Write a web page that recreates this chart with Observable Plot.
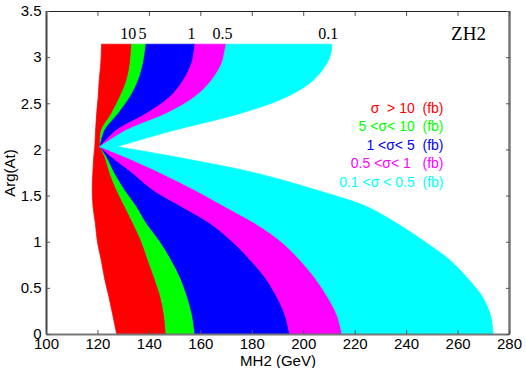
<!DOCTYPE html>
<html><head><meta charset="utf-8">
<script src="https://cdn.jsdelivr.net/npm/d3@7"></script>
<script src="https://cdn.jsdelivr.net/npm/@observablehq/plot@0.6"></script>
<style>body{margin:0;background:#fff} svg{display:block}</style>
</head><body><div id="chart"></div>
<script>
// ---------- data ----------
const xDomain = [100, 280];
const yDomain = [0, 3.5];
const xTicks = [100, 120, 140, 160, 180, 200, 220, 240, 260, 280];
const yTicks = [0, 0.5, 1, 1.5, 2, 2.5, 3, 3.5];
const levels = ["10", "5", "1", "0.5", "0.1"];
const bandColors = ["#ff0000", "#00ff00", "#0000ff", "#ff00ff", "#00ffff"];
const legendLabels = ["σ  > 10  (fb)", "5 <σ< 10  (fb)", "1 <σ< 5  (fb)", "0.5 <σ< 1   (fb)", "0.1 <σ < 0.5  (fb)"];
const title = "ZH2";

// upper lobe: Arg(At) values and MH2 of each boundary
const upperY     = [2.03, 2.21, 2.39, 2.57, 2.75, 2.93, 3.05, 3.14];
const upperEdge  = [119.0, 119.3, 119.7, 120.3, 120.7, 121.3, 121.5, 121.6];
const upper10    = [121.0, 121.6, 125.5, 128.8, 131.4, 132.7, 133.1, 133.3];
const upper5     = [121.0, 122.9, 128.1, 132.7, 135.9, 137.8, 138.5, 138.9];
const upper1     = [121.0, 127.5, 139.1, 148.2, 153.4, 156.6, 157.5, 157.9];
const upper05    = [121.0, 131.4, 146.9, 157.9, 164.4, 168.3, 169.4, 170.0];
const upper01    = [127.5, 150.0, 175.4, 193.6, 203.9, 209.1, 210.8, 211.1];

// lower lobe
const lowerY     = [2.03, 1.92, 1.74, 1.56, 1.38, 1.2, 1.0, 0.8, 0.6, 0.4, 0.2, 0];
const lowerEdge  = [119.0, 118.6, 118.2, 118.0, 118.3, 119.2, 120.0, 121.5, 122.8, 124.5, 126.0, 127.5];
const lower10    = [121.0, 122.9, 124.9, 127.5, 130.7, 133.9, 137.2, 139.7, 142.3, 144.6, 146.0, 146.7];
const lower5     = [121.0, 123.6, 126.8, 130.7, 135.3, 139.1, 144.4, 148.8, 152.4, 155.0, 156.9, 157.9];
const lower1     = [121.0, 125.5, 133.9, 141.7, 152.8, 163.8, 172.5, 179.5, 185.5, 189.8, 193.0, 194.7];
const lower05    = [121.0, 130.7, 145.0, 157.9, 169.6, 181.3, 191.5, 198.8, 204.8, 209.5, 213.2, 215.1];
const lower01    = [127.5, 150.0, 182.0, 205.0, 224.7, 236.3, 247.2, 257.0, 264.0, 269.7, 272.8, 273.8];

// ---------- build ----------
const upperBounds = [upperEdge, upper10, upper5, upper1, upper05, upper01];
const lowerBounds = [lowerEdge, lower10, lower5, lower1, lower05, lower01];

function bandRows(ys, bounds, i) {
  return ys.map((y, j) => ({y, x1: bounds[i][j], x2: bounds[i + 1][j]}));
}

const bandMarks = [];
bandColors.forEach((c, i) => {
  for (const [ys, bounds] of [[upperY, upperBounds], [lowerY, lowerBounds]]) {
    bandMarks.push(Plot.areaX(bandRows(ys, bounds, i), {
      y: "y", x1: "x1", x2: "x2", fill: c, stroke: c, strokeWidth: 0.8, curve: "catmull-rom"
    }));
  }
});

const topRow = upperY.length - 1;
const contourLabels = levels.map((t, i) => ({t, x: upperBounds[i + 1][topRow], y: upperY[topRow]}));

const serif = "'Liberation Serif', 'Times New Roman', serif";
const blank = () => "";
const plain = d => String(d);

const plot = Plot.plot({
  width: 526,
  height: 368,
  marginLeft: 46,
  marginRight: 17,
  marginTop: 11,
  marginBottom: 34,
  x: {domain: xDomain},
  y: {domain: yDomain},
  style: {fontFamily: "'Liberation Sans', Arial, sans-serif", fontSize: "15px", background: "#fff", color: "#000"},
  marks: [
    ...bandMarks,
    // frame
    Plot.ruleY([yDomain[1]], {stroke: "#222", strokeWidth: 1}),
    Plot.ruleX([xDomain[0]], {stroke: "#444", strokeWidth: 2}),
    Plot.ruleX([xDomain[1]], {stroke: "#777", strokeWidth: 2.5}),
    Plot.ruleY([yDomain[0]], {stroke: "#777", strokeWidth: 2}),
    // inward ticks
    Plot.axisX(xTicks, {anchor: "bottom", tickSize: -4, tickFormat: blank, label: null, stroke: "#555"}),
    Plot.axisX(xTicks, {anchor: "top", tickSize: -4, tickFormat: blank, label: null, stroke: "#555"}),
    Plot.axisY(yTicks, {anchor: "left", tickSize: -4, tickFormat: blank, label: null, stroke: "#555"}),
    Plot.axisY(yTicks, {anchor: "right", tickSize: -4, tickFormat: blank, label: null, stroke: "#555"}),
    // axis labels
    Plot.axisX(xTicks, {tickSize: 0, tickPadding: 4, fontSize: 15, tickFormat: plain,
      label: "MH2 (GeV)", labelAnchor: "center", labelArrow: "none", labelOffset: 31}),
    Plot.axisY(yTicks, {tickSize: 0, tickPadding: 5, fontSize: 15, tickFormat: plain,
      label: "Arg(At)", labelAnchor: "center", labelArrow: "none", labelOffset: 42}),
    // contour level labels
    Plot.text(contourLabels, {x: "x", y: "y", text: "t", dx: -4, dy: -11, fontSize: 16,
      fontFamily: serif, fill: "#000", lineAnchor: "middle"}),
    // title
    Plot.text([title], {frameAnchor: "top-right", dx: -41, dy: 22, fontSize: 19,
      fontFamily: serif, fill: "#000", lineAnchor: "middle", textAnchor: "middle"}),
    // legend
    ...legendLabels.map((t, i) => Plot.text([t], {
      frameAnchor: "top-right", textAnchor: "end", lineAnchor: "middle",
      dx: -66, dy: 97 + i * 18.4, fill: bandColors[i], fontSize: 14, ariaLabel: "legend"
    }))
  ]
});

// style σ glyphs in the legend
d3.select(plot).selectAll('g[aria-label="legend"] text').each(function () {
  const el = d3.select(this);
  const s = el.text();
  el.text(null).style("white-space", "pre");
  s.split(/(σ)/).forEach(part => {
    if (!part) return;
    const ts = el.append("tspan").text(part);
    if (part === "σ") ts.attr("font-size", 19).attr("font-weight", "bold").attr("font-family", "'DejaVu Sans', sans-serif");
  });
});

document.getElementById("chart").appendChild(plot);
</script>
</body></html>
